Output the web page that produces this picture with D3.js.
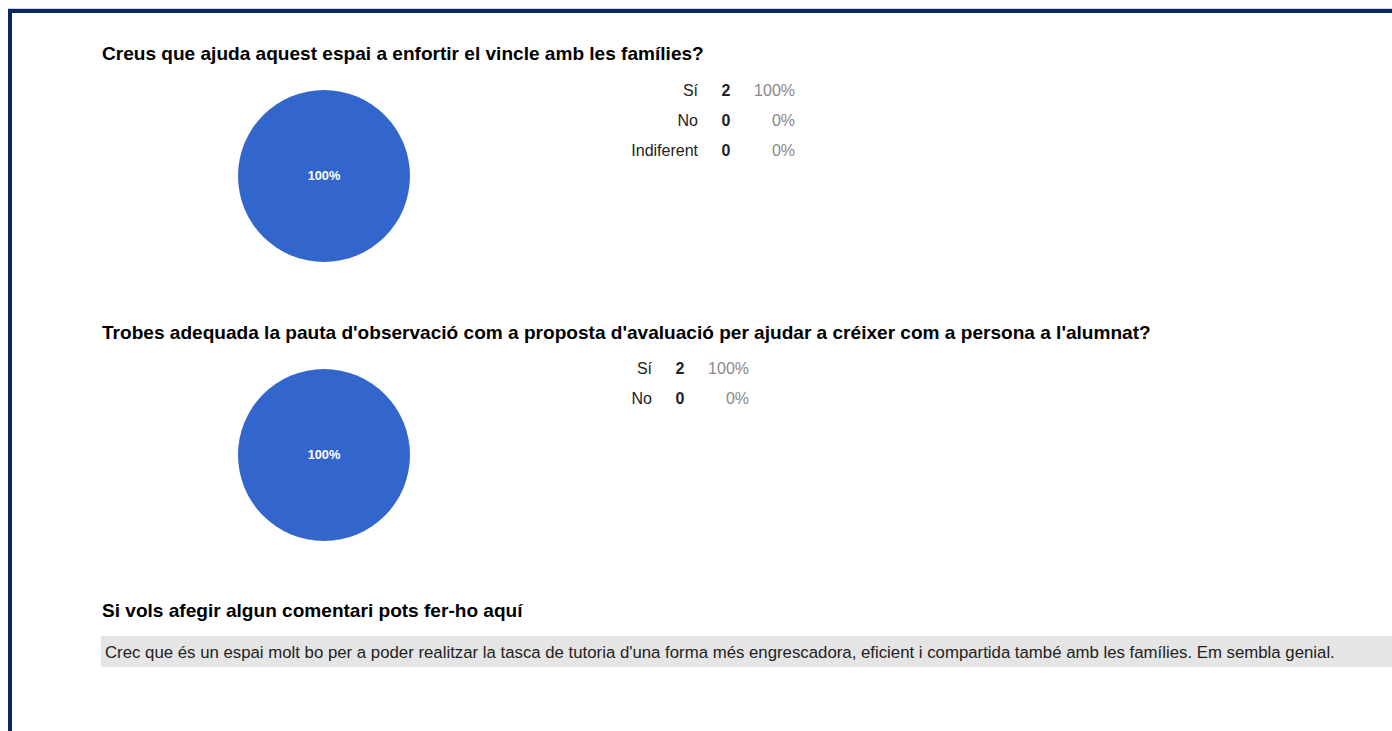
<!DOCTYPE html>
<html>
<head>
<meta charset="utf-8">
<script src="https://cdn.jsdelivr.net/npm/d3@7"></script>
<style>
  html, body { margin: 0; padding: 0; background: #fff; }
  svg { display: block; font-family: "Liberation Sans", Arial, sans-serif; }
</style>
</head>
<body>
<svg id="chart" width="1392" height="731"></svg>
<script>
// Survey questions and answers
const questions = [
  "Creus que ajuda aquest espai a enfortir el vincle amb les famílies?",
  "Trobes adequada la pauta d'observació com a proposta d'avaluació per ajudar a créixer com a persona a l'alumnat?"
];
const q1Options = ["Sí", "No", "Indiferent"];
const q1Counts = [2, 0, 0];
const q2Options = ["Sí", "No"];
const q2Counts = [2, 0];
const commentTitle = "Si vols afegir algun comentari pots fer-ho aquí";
const comments = [
  "Crec que és un espai molt bo per a poder realitzar la tasca de tutoria d'una forma més engrescadora, eficient i compartida també amb les famílies. Em sembla genial."
];

const svg = d3.select("#chart");
const W = 1392, H = 731;
const TITLE_STRETCH = 1.06;

// page frame
svg.append("rect").attr("x", 0).attr("y", 0).attr("width", W).attr("height", H).attr("fill", "#fff");
svg.append("line").attr("x1", 8).attr("x2", W).attr("y1", 8.5).attr("y2", 8.5)
  .attr("stroke", "#d0d6e2").attr("stroke-width", 1);
svg.append("rect").attr("x", 8).attr("y", 9).attr("width", W).attr("height", 4).attr("fill", "#0b2463");
svg.append("rect").attr("x", 8).attr("y", 9).attr("width", 4).attr("height", H).attr("fill", "#0b2463");

const sliceColors = ["#3366cc", "#dc3912", "#ff9900"];
const pct = d3.format(".0%");

function heading(text, x, y) {
  svg.append("text")
    .attr("transform", `translate(${x},${y}) scale(${TITLE_STRETCH},1)`)
    .attr("font-size", 18).attr("font-weight", "bold").attr("fill", "#000")
    .text(text);
}

function drawQuestion(opts) {
  const { title, titleY, options, counts, pieCx, pieCy, r, tableRight, tableY } = opts;
  heading(title, 102, titleY);

  const total = d3.sum(counts);
  const data = options.map((o, i) => ({ label: o, count: counts[i], share: total ? counts[i] / total : 0 }));

  const pie = d3.pie().sort(null).value(d => d.count);
  const arc = d3.arc().innerRadius(0).outerRadius(r);
  const g = svg.append("g").attr("transform", `translate(${pieCx},${pieCy})`);
  const arcs = pie(data).filter(a => a.data.count > 0);
  g.selectAll("path").data(arcs).join("path")
    .attr("d", arc)
    .attr("fill", d => sliceColors[data.indexOf(d.data) % sliceColors.length]);
  g.selectAll("text").data(arcs).join("text")
    .attr("transform", d => (d.endAngle - d.startAngle) >= 2 * Math.PI - 1e-6 ? "translate(0,0)" : `translate(${arc.centroid(d)})`)
    .attr("text-anchor", "middle").attr("dy", "0.35em")
    .attr("font-size", 12.8).attr("font-weight", "bold").attr("fill", "#fff")
    .text(d => pct(d.data.share));

  // summary table
  const rowY = d3.scalePoint().domain(options).range([tableY, tableY + 30 * (options.length - 1)]);
  const rows = svg.append("g").selectAll("g").data(data).join("g")
    .attr("transform", d => `translate(0,${rowY(d.label)})`);
  rows.append("text").attr("x", tableRight).attr("dy", "0.35em").attr("text-anchor", "end")
    .attr("font-size", 16).attr("fill", "#222").text(d => d.label);
  rows.append("text").attr("x", tableRight + 28).attr("dy", "0.35em").attr("text-anchor", "middle")
    .attr("font-size", 16).attr("font-weight", "bold").attr("fill", "#222").text(d => d.count);
  rows.append("text").attr("x", tableRight + 97).attr("dy", "0.35em").attr("text-anchor", "end")
    .attr("font-size", 16).attr("fill", "#888").text(d => pct(d.share));
}

drawQuestion({ title: questions[0], titleY: 60, options: q1Options, counts: q1Counts,
  pieCx: 324, pieCy: 176, r: 86, tableRight: 698, tableY: 90 });
drawQuestion({ title: questions[1], titleY: 339, options: q2Options, counts: q2Counts,
  pieCx: 324, pieCy: 455, r: 86, tableRight: 652, tableY: 368 });

// open-ended comments
heading(commentTitle, 102, 617);
const cg = svg.append("g").selectAll("g").data(comments).join("g")
  .attr("transform", (d, i) => `translate(101,${636 + i * 32})`);
cg.append("rect").attr("width", W - 101).attr("height", 31).attr("fill", "#e5e5e5");
cg.append("text").attr("x", 4).attr("y", 16.5).attr("dy", "0.35em")
  .attr("font-size", 16.8).attr("fill", "#222").text(d => d);
</script>
</body>
</html>
